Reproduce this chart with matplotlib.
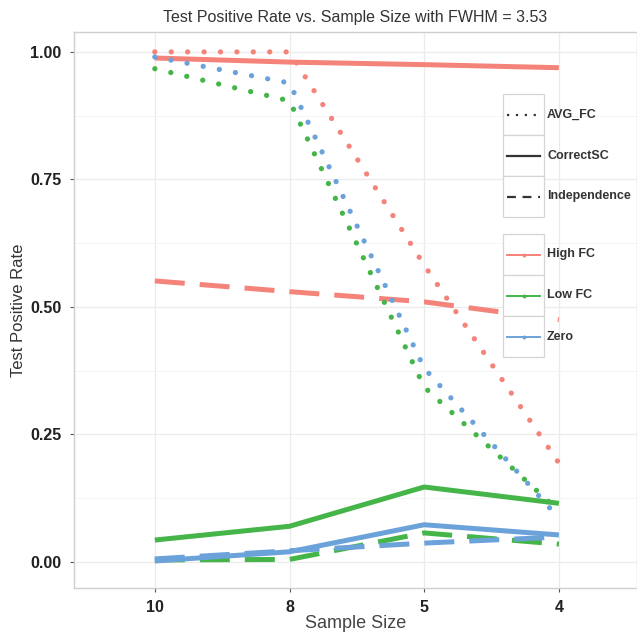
import numpy as np
import matplotlib
matplotlib.use("Agg")
import matplotlib.pyplot as plt
from matplotlib.lines import Line2D
from matplotlib.patches import Rectangle

plt.rcParams["font.family"] = ["Liberation Sans", "DejaVu Sans"]

sizes = ["10", "8", "5", "4"]
groups = ["High FC", "Low FC", "Zero"]
methods = ["AVG_FC", "CorrectSC", "Independence"]

# values, one list per (group, method)
high_avg = [1.00, 1.00, 0.582, 0.194]
high_correct = [0.988, 0.980, 0.975, 0.969]
high_indep = [0.551, 0.530, 0.510, 0.475]
low_avg = [0.967, 0.904, 0.343, 0.100]
low_correct = [0.043, 0.070, 0.147, 0.115]
low_indep = [0.004, 0.005, 0.057, 0.035]
zero_avg = [0.990, 0.939, 0.380, 0.086]
zero_correct = [0.002, 0.020, 0.073, 0.053]
zero_indep = [0.006, 0.022, 0.037, 0.049]

data = {
    ("High FC", "AVG_FC"): high_avg,
    ("High FC", "CorrectSC"): high_correct,
    ("High FC", "Independence"): high_indep,
    ("Low FC", "AVG_FC"): low_avg,
    ("Low FC", "CorrectSC"): low_correct,
    ("Low FC", "Independence"): low_indep,
    ("Zero", "AVG_FC"): zero_avg,
    ("Zero", "CorrectSC"): zero_correct,
    ("Zero", "Independence"): zero_indep,
}

colors = {"High FC": "#F4837A", "Low FC": "#45B549", "Zero": "#6CA2DA"}
styles = {
    "AVG_FC": dict(linestyle=(0, (0.01, 3.1)), dash_capstyle="round", lw=3.8),
    "CorrectSC": dict(linestyle="-", lw=3.6, solid_capstyle="butt"),
    "Independence": dict(linestyle=(0, (6, 3)), dash_capstyle="butt", lw=3.6),
}

fig = plt.figure(figsize=(6.37, 6.33), dpi=100)
ax = fig.add_axes([74 / 637, 1 - 588 / 633, 1 - 74 / 637, (588 - 32) / 633])

x = np.arange(1, len(sizes) + 1)
for g in groups:
    for m in methods:
        ax.plot(x, data[(g, m)], color=colors[g], zorder=3, **styles[m])

ax.set_xlim(0.4, 4.58)
ax.set_ylim(-0.051, 1.039)
ax.set_xticks(x)
ax.set_xticklabels(sizes, fontsize=11.5, fontweight="bold", color="#222222")
ax.set_yticks([0, 0.25, 0.5, 0.75, 1.0])
ax.set_yticklabels(["0.00", "0.25", "0.50", "0.75", "1.00"], fontsize=11.5,
                   fontweight="bold", color="#222222")
ax.set_yticks([0.125, 0.375, 0.625, 0.875], minor=True)
ax.grid(which="major", color="#EBEBEB", lw=0.9)
ax.grid(which="minor", axis="y", color="#F4F4F4", lw=0.6)
ax.set_axisbelow(True)
ax.tick_params(axis="both", which="major", length=3, color="#555555", pad=6)
ax.tick_params(axis="y", which="minor", length=0)
for s in ax.spines.values():
    s.set_color("#CFCFCF")
    s.set_linewidth(1.0)

ax.set_title("Test Positive Rate vs. Sample Size with FWHM = 3.53",
             fontsize=11.5, color="#333333", pad=7)
ax.set_xlabel("Sample Size", fontsize=13, color="#444444", labelpad=0)
ax.set_ylabel("Test Positive Rate", fontsize=12, color="#333333", labelpad=3)

# legends drawn as ggplot-style key boxes
def legend_block(top, entries):
    kx, kw, kh = 503 / 637, 41 / 637, 41 / 633
    for i, (label, kwargs) in enumerate(entries):
        y0 = 1 - (top + (i + 1) * 41) / 633
        fig.add_artist(Rectangle((kx, y0), kw, kh, transform=fig.transFigure,
                                 facecolor="white", edgecolor="#D5D5D5", lw=0.9,
                                 zorder=5))
        fig.add_artist(Line2D([kx + 0.1 * kw, kx + 0.5 * kw, kx + 0.9 * kw],
                              [y0 + kh / 2] * 3,
                              transform=fig.transFigure, zorder=6, **kwargs))
        fig.text(kx + kw + 3 / 637, y0 + kh / 2, label, fontsize=9,
                 fontweight="bold", color="#333333", va="center", zorder=6)

legend_block(94, [(m, dict(color="#333333", lw=1.6,
                           linestyle={"AVG_FC": (0, (1, 3)),
                                      "CorrectSC": "-",
                                      "Independence": (0, (4, 3))}[m]))
                  for m in methods])
legend_block(234, [(g, dict(color=colors[g], lw=1.4, marker="o", markersize=1.8,
                            markevery=[1], linestyle="-"))
                   for g in groups])

fig.savefig("out.png", dpi=100)
